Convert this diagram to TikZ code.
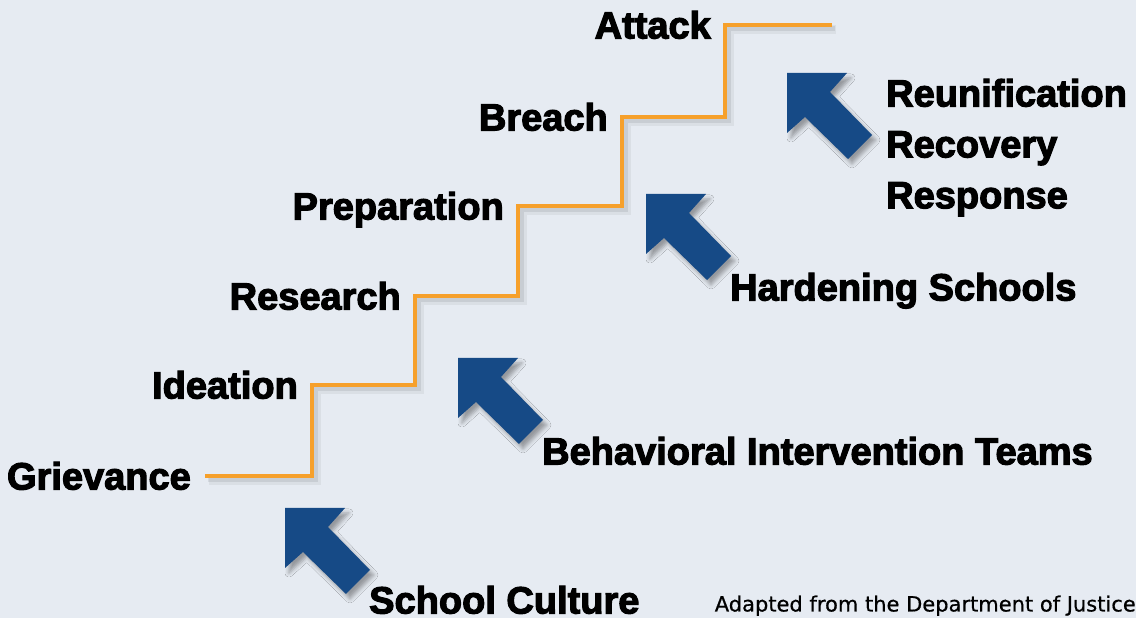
\documentclass[tikz,border=0pt]{standalone}
\usepackage{fontspec}
\setmainfont{Liberation Sans}[BoldFeatures={FakeBold=3}]
\newfontfamily\notefont{DejaVu Sans}[FakeBold=0.6]
\usetikzlibrary{positioning,shadows.blur}

\definecolor{bgfill}{HTML}{E6EBF2}
\definecolor{stairorange}{HTML}{F6A02B}
\definecolor{arrowblue}{HTML}{164A86}

\begin{document}
\begin{tikzpicture}[x=1pt, y=1pt]
    \tikzset{
      stair/.style = {draw=stairorange, line width=4pt},
      stepname/.style = {font=\fontsize{38}{40}\selectfont\bfseries,
      inner sep=0pt, text height=27pt, text depth=0pt},
      taskname/.style = {stepname, anchor=west},
      notename/.style = {font=\notefont\fontsize{21}{22}\selectfont,
      inner sep=0pt, text height=15pt, text depth=0pt},
      blockarrow/.pic = {
        \fill[arrowblue, blur shadow={shadow xshift=4pt, shadow yshift=-5pt,
          shadow blur radius=4pt, shadow opacity=35}]
          (0,0) -- ++(60,0) -- ++(-17,-19) -- ++(42,-43) -- ++(-24,-24)
          -- ++(-43,42) -- ++(-18,-16) -- cycle;
        \coordinate (-tip) at (0,0);
        \coordinate (-label) at (84,-93);
      }
    }

    \fill[bgfill] (0,0) rectangle (1136,618);
    \useasboundingbox (0,0) rectangle (1136,618);

    % corners where each step starts
    \coordinate (p0) at (205,142);
    \coordinate (p1) at (312,233);
    \coordinate (p2) at (415,322);
    \coordinate (p3) at (518,412);
    \coordinate (p4) at (622,501);
    \coordinate (p5) at (725,593);
    \coordinate (top) at (832,593);

    \draw[stair,
      preaction={draw=black, draw opacity=0.05, line width=9pt,
        transform canvas={shift={(4pt,-5pt)}}},
      preaction={draw=black, draw opacity=0.08, line width=5pt,
        transform canvas={shift={(3pt,-4pt)}}}]
      (p0) -| (p1) -| (p2) -| (p3) -| (p4) -| (p5) -- (top);

    \node[stepname, left=14pt of p0] (grievance) {Grievance};
    \node[stepname, left=14pt of p1] (ideation) {Ideation};
    \node[stepname, left=14pt of p2] (research) {Research};
    \node[stepname, left=14pt of p3] (preparation) {Preparation};
    \node[stepname, left=14pt of p4] (breach) {Breach};
    \node[stepname, left=14pt of p5] (attack) {Attack};

    \pic (culturearrow) at (285,110) {blockarrow};
    \pic (teamsarrow) at (458,260) {blockarrow};
    \pic (hardeningarrow) at (646,424) {blockarrow};
    \pic (responsearrow) at (787,545) {blockarrow};

    \node[taskname] (culture) at ([yshift=1pt]culturearrow-label)
      {School Culture};
    \node[taskname] (teams) at (teamsarrow-label)
      {Behavioral Intervention Teams};
    \node[taskname] (hardening) at (hardeningarrow-label)
      {Hardening Schools};

    \node[taskname] (reunification) at ([shift={(99,-20)}]responsearrow-tip)
      {Reunification};
    \node[stepname, below=23.5pt of reunification.south west, anchor=north west]
      (recovery) {Recovery};
    \node[stepname, below=23.5pt of recovery.south west, anchor=north west]
      (response) {Response};

    \node[notename, anchor=east] (source) at (1136,14)
      {Adapted from the Department of Justice};
  \end{tikzpicture}
\end{document}
